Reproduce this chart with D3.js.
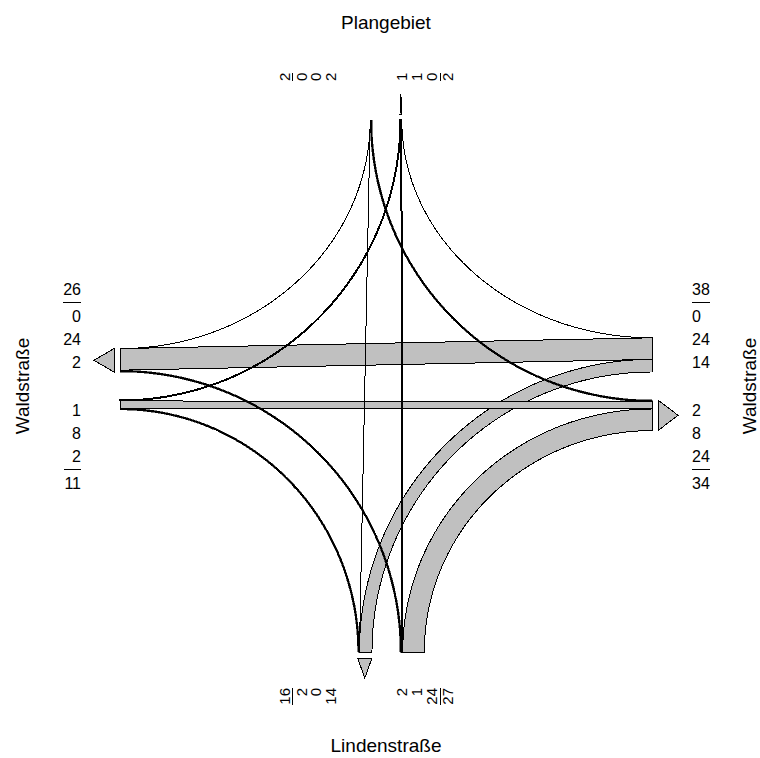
<!DOCTYPE html>
<html>
<head>
<meta charset="utf-8">
<script src="https://cdn.jsdelivr.net/npm/d3@7"></script>
<style>
  html, body { margin: 0; padding: 0; background: #fff; }
  svg { display: block; font-family: Arial, "Liberation Sans", sans-serif; }
</style>
</head>
<body>
<div id="chart"></div>
<script>
/* Knotenstromdiagramm — turning movements at a four-arm junction */

// arms, clockwise from the top
const armIds = ['N', 'E', 'S', 'W'];
const armNames = ['Plangebiet', 'Waldstraße', 'Lindenstraße', 'Waldstraße'];

// turning movements: from arm -> to arm, vehicles
const flowFrom  = ['N', 'N', 'N', 'E', 'E', 'E', 'S', 'S', 'S', 'W', 'W', 'W'];
const flowTo    = ['W', 'S', 'E', 'N', 'W', 'S', 'W', 'N', 'E', 'N', 'E', 'S'];
const flowValue = [0, 0, 2, 0, 24, 14, 2, 1, 24, 1, 8, 2];

(function () {
  const W = 760, H = 758;
  const cx = 386, cy = 386, R = 266, gap = 14;
  const GREY = '#c0c0c0';

  const pos = d3.scaleLinear().domain([-1, 1]).range([cx - R, cx + R]);
  const posY = d3.scaleLinear().domain([-1, 1]).range([cy - R, cy + R]);
  const left = pos(-1), right = pos(1), top = posY(-1), bottom = posY(1);
  const bw = d3.scaleLinear().domain([0, 10]).range([0, 9]);

  const svg = d3.select('#chart').append('svg')
    .attr('width', W).attr('height', H)
    .attr('viewBox', `0 0 ${W} ${H}`);

  // rank 0 = left turn (closest to centre), 1 = straight, 2 = right turn
  const flows = flowValue.map((v, i) => {
    const o = armIds.indexOf(flowFrom[i]);
    const t = armIds.indexOf(flowTo[i]);
    return { from: flowFrom[i], to: flowTo[i], value: v, rank: (t - o + 4) % 4 - 1 };
  });

  armIds.forEach(a => {
    let acc = 0;
    flows.filter(f => f.from === a).sort((p, q) => p.rank - q.rank).forEach(f => {
      f.in0 = bw(acc); acc += f.value; f.in1 = bw(acc);
    });
    acc = 0;
    flows.filter(f => f.to === a).sort((p, q) => p.rank - q.rank).forEach(f => {
      f.out0 = bw(acc); acc += f.value; f.out1 = bw(acc);
    });
  });

  function endPoint(arm, side, d) {
    switch (arm) {
      case 'N': return side === 'in' ? [cx - gap - d, top] : [cx + gap + d, top];
      case 'S': return side === 'in' ? [cx + gap + d, bottom] : [cx - gap - d, bottom];
      case 'W': return side === 'in' ? [left, cy + gap + d] : [left, cy - gap - d];
      default:  return side === 'in' ? [right, cy - gap - d] : [right, cy + gap + d];
    }
  }
  const vertical = a => a === 'N' || a === 'S';

  // straight through: a line; turning: quarter ellipse centred on the outer corner
  function edge(fromArm, P, toArm, Q) {
    if (vertical(fromArm) === vertical(toArm)) return [P, Q];
    const V = vertical(fromArm) ? P : Q;
    const Hp = vertical(fromArm) ? Q : P;
    const c = [Hp[0], V[1]];
    const rx = V[0] - c[0], ry = Hp[1] - c[1];
    const pts = d3.range(0, 97).map(k => {
      const t = (k / 96) * Math.PI / 2;
      return [c[0] + rx * Math.cos(t), c[1] + ry * Math.sin(t)];
    });
    return vertical(fromArm) ? pts : pts.reverse();
  }

  const line = d3.line();
  const bands = svg.append('g').attr('class', 'bands').attr('shape-rendering', 'crispEdges');

  flows.slice().sort((p, q) => q.value - p.value).forEach(f => {
    const e1 = edge(f.from, endPoint(f.from, 'in', f.in0), f.to, endPoint(f.to, 'out', f.out0));
    if (f.value === 0) {
      bands.append('path')
        .attr('d', line(e1))
        .attr('fill', 'none').attr('stroke', '#000').attr('stroke-width', 1);
      return;
    }
    const e2 = edge(f.from, endPoint(f.from, 'in', f.in1), f.to, endPoint(f.to, 'out', f.out1));
    // bands only a couple of pixels wide come out as solid black strokes
    const px = bw(f.value);
    const narrow = px < 2.5;
    bands.append('path')
      .attr('d', line(e1.concat(e2.reverse())) + 'Z')
      .attr('fill', narrow ? '#000' : GREY)
      .attr('stroke', '#000')
      .attr('stroke-width', narrow ? Math.max(0.5, 2 - px) : 1);
  });

  // arrows on the exit side of each arm
  const arrows = svg.append('g').attr('class', 'arrows').attr('shape-rendering', 'crispEdges');
  armIds.forEach(a => {
    const tot = bw(d3.sum(flows.filter(f => f.to === a), f => f.value));
    const p0 = endPoint(a, 'out', 0), p1 = endPoint(a, 'out', tot);
    const dir = { N: [0, -1], S: [0, 1], W: [-1, 0], E: [1, 0] }[a];
    const b0 = [p0[0] + dir[0] * 6, p0[1] + dir[1] * 6];
    const b1 = [p1[0] + dir[0] * 6, p1[1] + dir[1] * 6];
    const tip = [(b0[0] + b1[0]) / 2 + dir[0] * 20, (b0[1] + b1[1]) / 2 + dir[1] * 20];
    arrows.append('path')
      .attr('d', line([b0, b1, tip]) + 'Z')
      .attr('fill', GREY).attr('stroke', '#000').attr('stroke-width', 1);
  });

  // number labels
  const lab = svg.append('g').attr('class', 'labels').style('fill', '#000');

  function groupValues(a, side) {
    const list = flows.filter(f => (side === 'in' ? f.from : f.to) === a)
      .sort((p, q) => p.rank - q.rank).map(f => f.value);
    return { vals: list, total: d3.sum(list) };
  }

  // horizontal arms (W / E): upper group above centre, lower group below
  function horizLabels(a, upperSide, lowerSide, x, anchor) {
    [[upperSide, -1], [lowerSide, 1]].forEach(([side, sg]) => {
      const g = groupValues(a, side);
      g.vals.forEach((v, k) => {
        lab.append('text').attr('x', x).attr('y', cy + sg * (24 + 23 * k))
          .attr('dy', '0.35em').attr('text-anchor', anchor)
          .style('font-size', '16px').text(v);
      });
      const t = lab.append('text').attr('x', x).attr('y', cy + sg * 97)
        .attr('dy', '0.35em').attr('text-anchor', anchor)
        .style('font-size', '16px').text(g.total);
      const len = t.node().getComputedTextLength();
      const x2 = anchor === 'end' ? x - len : x + len;
      lab.append('line').attr('x1', x).attr('x2', x2)
        .attr('y1', cy + sg * 83.5).attr('y2', cy + sg * 83.5)
        .attr('stroke', '#000').attr('stroke-width', 1).attr('shape-rendering', 'crispEdges');
    });
  }
  horizLabels('W', 'out', 'in', 81, 'end');
  horizLabels('E', 'in', 'out', 692, 'start');

  // vertical arms (N / S): rotated labels, left group and right group
  function vertLabels(a, leftSide, rightSide, y, anchor) {
    const spec = [[leftSide, -1, 55], [rightSide, 1, 16]];
    spec.forEach(([side, sg, first]) => {
      const g = groupValues(a, side);
      g.vals.forEach((v, k) => {
        lab.append('text')
          .attr('transform', `translate(${cx + sg * (first + 14.8 * k)},${y}) rotate(-90)`)
          .attr('dy', '0.35em').attr('text-anchor', anchor)
          .style('font-size', '15px').text(v);
      });
      const tx = cx + sg * (first + 14.8 * (g.vals.length - 1) + 16.5);
      const t = lab.append('text')
        .attr('transform', `translate(${tx},${y}) rotate(-90)`)
        .attr('dy', '0.35em').attr('text-anchor', anchor)
        .style('font-size', '15px').text(g.total);
      const len = t.node().getComputedTextLength();
      const sx = cx + sg * (first + 14.8 * (g.vals.length - 1) + 8.5);
      const y2 = anchor === 'start' ? y - len : y + len;
      lab.append('line').attr('x1', sx).attr('x2', sx).attr('y1', y).attr('y2', y2)
        .attr('stroke', '#000').attr('stroke-width', 1).attr('shape-rendering', 'crispEdges');
    });
  }
  vertLabels('N', 'in', 'out', 81, 'start');
  vertLabels('S', 'out', 'in', 688, 'end');

  // street names
  const names = svg.append('g').style('font-size', '19px').style('fill', '#000')
    .attr('text-anchor', 'middle');
  names.append('text').attr('x', cx).attr('y', 22).attr('dy', '0.35em').text(armNames[0]);
  names.append('text').attr('x', cx).attr('y', 745).attr('dy', '0.35em').text(armNames[2]);
  names.append('text').attr('transform', `translate(22,${cy}) rotate(-90)`)
    .attr('dy', '0.35em').text(armNames[3]);
  names.append('text').attr('transform', `translate(749,${cy}) rotate(-90)`)
    .attr('dy', '0.35em').text(armNames[1]);
})();
</script>
</body>
</html>
